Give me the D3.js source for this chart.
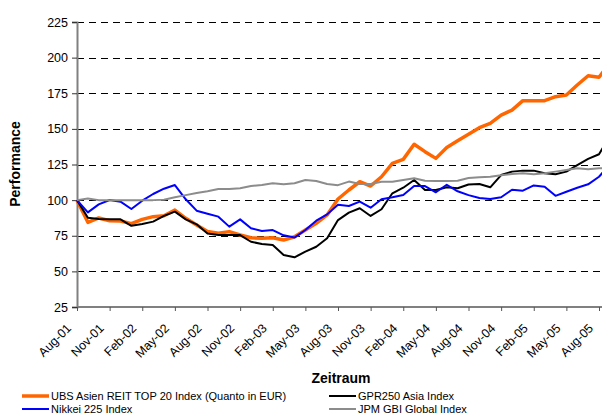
<!DOCTYPE html>
<html>
<head>
<meta charset="utf-8">
<script src="https://cdn.jsdelivr.net/npm/d3@7"></script>
<style>
  body { margin: 0; background: #fff; }
  svg { font-family: "Liberation Sans", Arial, sans-serif; display: block; }
</style>
</head>
<body>
<svg id="chart" width="602" height="415"></svg>
<script>
// monthly index values, Aug-01 .. Sep-05
const ubsReit = [100, 84.4, 87.5, 85.5, 85.4, 83.5, 86.5, 88.4, 89, 93, 87.2, 82.5,
  78, 76.7, 77.9, 75.5, 73.6, 73.2, 73.6, 72, 74.3, 79, 83.7, 89.6,
  100.8, 107.1, 112.9, 109.9, 116.4, 125.8, 128.6, 139.2, 134, 129.3, 137, 141.7,
  146.2, 150.8, 153.9, 159.7, 163.2, 169.8, 169.8, 169.8, 172.6, 173.8, 180.8, 187.3,
  186.2, 196];
const gpr250 = [100, 87.7, 86.8, 86.5, 86.5, 82, 83.2, 84.9, 88.9, 91.9, 86.5, 83,
  76.5, 75.5, 75.5, 75.5, 70.8, 69.2, 68.5, 61.5, 59.9, 63.8, 67.3, 73.2,
  86, 91.2, 94.3, 88.9, 93.6, 104.8, 108.7, 114.1, 107.1, 107.1, 109, 108.3,
  111, 111.3, 109, 117.6, 120, 120.7, 120.7, 118.8, 118.1, 120, 124.6, 128.9,
  132.2, 145];
const nikkei = [100, 91.4, 97, 100.1, 98.9, 93.8, 99.6, 104.3, 108, 110.6, 100.6, 92.6,
  90.5, 88.4, 81.4, 86.5, 80.2, 78.3, 79, 75.3, 73.7, 79, 85.6, 90,
  96.8, 95.9, 98.9, 94.7, 100.6, 102, 103.6, 109.9, 109.9, 105.5, 110.8, 106.2,
  103.5, 101.5, 100.8, 102, 107.3, 106.6, 110.3, 109.4, 103, 105.9, 108.7, 111.1,
  116.4, 125];
const jpmGbi = [100, 101.2, 100, 100, 100, 100, 100, 100, 100.3, 102, 103.5, 105,
  106.3, 107.8, 107.8, 108.3, 109.9, 110.6, 111.8, 111.1, 111.8, 114.1, 113.4, 111.3,
  110.5, 113, 111.3, 111.3, 112.9, 112.9, 114.1, 115.3, 113.6, 113.4, 113.4, 113.6,
  115.5, 116, 116.4, 117.4, 118.3, 118.8, 118.1, 118.8, 120, 121.1, 122.3, 121.6,
  122.3, 122.5];

const tickLabels = ["Aug-01", "Nov-01", "Feb-02", "May-02", "Aug-02", "Nov-02", "Feb-03",
  "May-03", "Aug-03", "Nov-03", "Feb-04", "May-04", "Aug-04", "Nov-04", "Feb-05",
  "May-05", "Aug-05"];
const yTicks = [25, 50, 75, 100, 125, 150, 175, 200, 225];

const seriesNames = ["UBS Asien REIT TOP 20 Index (Quanto in EUR)", "GPR250 Asia Index",
  "Nikkei 225 Index", "JPM GBI Global Index"];
const seriesData = [ubsReit, gpr250, nikkei, jpmGbi];
const seriesColors = ["#ff6600", "#000000", "#0000ff", "#8c8c8c"];
const seriesWidths = [3.5, 2, 2, 2];

const svg = d3.select("#chart");

const x = d3.scaleLinear().domain([0, 48]).range([77, 599]);
const y = d3.scaleLinear().domain([25, 225]).range([307, 22]);

// dashed gridlines
svg.append("g")
  .selectAll("line")
  .data(yTicks.slice(1))
  .join("line")
  .attr("x1", 77)
  .attr("x2", 602)
  .attr("y1", d => Math.round(y(d)) + 0.5)
  .attr("y2", d => Math.round(y(d)) + 0.5)
  .attr("stroke", "#000")
  .attr("stroke-width", 1)
  .attr("stroke-dasharray", "7,5");

// y axis
const yAxis = svg.append("g")
  .attr("transform", "translate(77,0)")
  .call(d3.axisLeft(y).tickValues(yTicks).tickSize(5).tickPadding(4));
yAxis.select(".domain").attr("stroke", "#808080").attr("stroke-width", 2);
yAxis.selectAll(".tick line").attr("stroke", "#333");
yAxis.selectAll("text").attr("font-size", "12.5px").attr("fill", "#000")
  .attr("font-family", "Liberation Sans, Arial, sans-serif");

// x axis
const xTickVals = tickLabels.map((d, i) => i * 3);
const xAxis = svg.append("g")
  .attr("transform", "translate(0,307)")
  .call(d3.axisBottom(x).tickValues(xTickVals).tickSize(4).tickFormat(""));
xAxis.select(".domain").attr("d", "M77,0H602").attr("stroke", "#808080").attr("stroke-width", 2);
xAxis.selectAll(".tick line").attr("stroke", "#555");

svg.append("g")
  .selectAll("text")
  .data(tickLabels)
  .join("text")
  .attr("transform", (d, i) => `translate(${x(i * 3) - 5},329) rotate(-45)`)
  .attr("text-anchor", "end")
  .attr("font-size", "12.5px")
  .text(d => d);

// lines
const line = d3.line()
  .x((d, i) => x(i))
  .y(d => y(d));

svg.append("g")
  .selectAll("path")
  .data(seriesData)
  .join("path")
  .attr("d", d => line(d))
  .attr("fill", "none")
  .attr("stroke", (d, i) => seriesColors[i])
  .attr("stroke-width", (d, i) => seriesWidths[i])
  .attr("stroke-linejoin", "round");

// axis titles
svg.append("text")
  .attr("transform", "translate(20,164) rotate(-90)")
  .attr("text-anchor", "middle")
  .attr("font-size", "14px")
  .attr("font-weight", "bold")
  .text("Performance");

svg.append("text")
  .attr("x", 341)
  .attr("y", 382.5)
  .attr("text-anchor", "middle")
  .attr("font-size", "14px")
  .attr("font-weight", "bold")
  .text("Zeitraum");

// legend, two columns
const legendPos = [[22, 396], [329, 396], [22, 409], [329, 409]];
const legend = svg.append("g")
  .selectAll("g")
  .data(seriesNames)
  .join("g")
  .attr("transform", (d, i) => `translate(${legendPos[i][0]},${legendPos[i][1]})`);

legend.append("line")
  .attr("x1", 0)
  .attr("x2", 27)
  .attr("stroke", (d, i) => seriesColors[i])
  .attr("stroke-width", (d, i) => seriesWidths[i]);

legend.append("text")
  .attr("x", 29)
  .attr("y", 4)
  .attr("font-size", "11px")
  .text(d => d);
</script>
</body>
</html>
